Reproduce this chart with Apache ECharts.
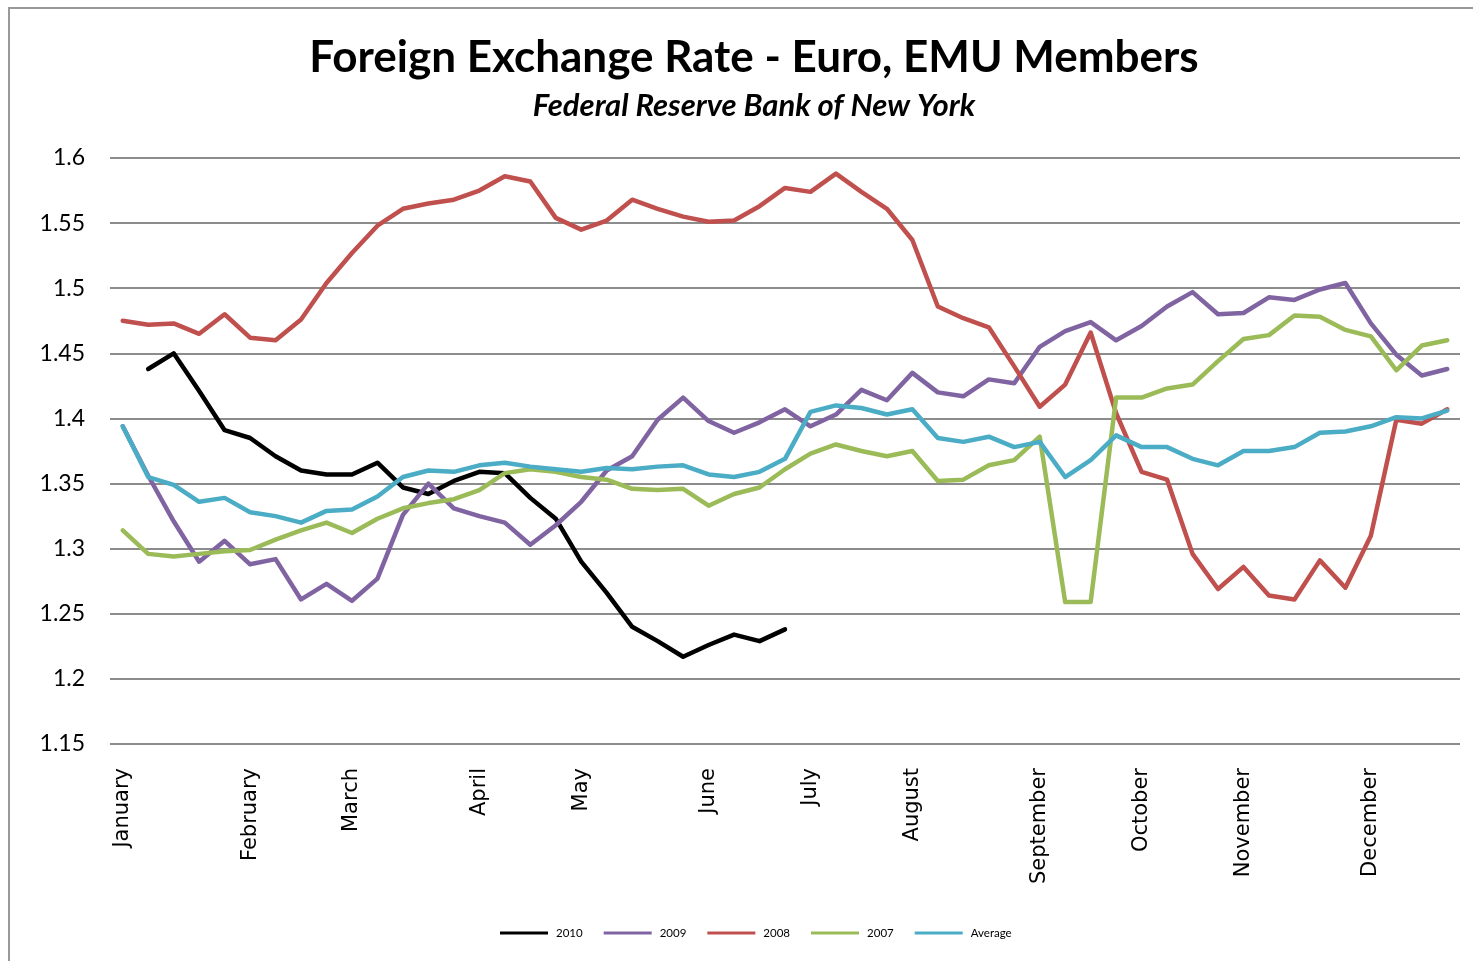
<!DOCTYPE html>
<html lang="en">
<head>
    <meta charset="UTF-8">
    <title>Foreign Exchange Rate - Euro, EMU Members</title>
    <script src="https://cdn.jsdelivr.net/npm/echarts@6/dist/echarts.min.js"></script>
    <style>
        body {
            margin: 0;
            padding: 0;
            background: #fff;
        }
        #chart {
            width: 1473px;
            height: 961px;
        }
    </style>
</head>
<body>
<div id="chart"></div>
<script>
    // Weekly points, month name shown on the first week of each month
    const monthNames = ['January', 'February', 'March', 'April', 'May', 'June',
        'July', 'August', 'September', 'October', 'November', 'December'];
    const monthWeeks = [0, 5, 9, 14, 18, 23, 27, 31, 36, 40, 44, 49];
    const weeks = [];
    for (let i = 0; i < 53; i++) {
        const m = monthWeeks.indexOf(i);
        weeks.push(m >= 0 ? monthNames[m] : 'w' + i);
    }

    const y2010 = [null, 1.438, 1.450, 1.421, 1.391, 1.385, 1.371, 1.360, 1.357, 1.357, 1.366,
        1.347, 1.342, 1.352, 1.359, 1.358, 1.339, 1.323, 1.290, 1.266, 1.240,
        1.229, 1.217, 1.226, 1.234, 1.229, 1.238,
        null, null, null, null, null, null, null, null, null, null, null, null, null, null,
        null, null, null, null, null, null, null, null, null, null, null, null];

    const y2009 = [1.394, 1.356, 1.321, 1.290, 1.306, 1.288, 1.292, 1.261, 1.273, 1.260, 1.277,
        1.326, 1.350, 1.331, 1.325, 1.320, 1.303, 1.318, 1.336, 1.360, 1.371,
        1.399, 1.416, 1.398, 1.389, 1.397, 1.407, 1.394, 1.403, 1.422, 1.414,
        1.435, 1.420, 1.417, 1.430, 1.427, 1.455, 1.467, 1.474, 1.460, 1.471,
        1.486, 1.497, 1.480, 1.481, 1.493, 1.491, 1.499, 1.504, 1.473, 1.449,
        1.433, 1.438];

    const y2008 = [1.475, 1.472, 1.473, 1.465, 1.480, 1.462, 1.460, 1.476, 1.504, 1.527, 1.548,
        1.561, 1.565, 1.568, 1.575, 1.586, 1.582, 1.554, 1.545, 1.552, 1.568,
        1.561, 1.555, 1.551, 1.552, 1.563, 1.577, 1.574, 1.588, 1.574, 1.561,
        1.537, 1.486, 1.477, 1.470, 1.440, 1.409, 1.426, 1.466, 1.404, 1.359,
        1.353, 1.296, 1.269, 1.286, 1.264, 1.261, 1.291, 1.270, 1.310, 1.399,
        1.396, 1.407];

    const y2007 = [1.314, 1.296, 1.294, 1.296, 1.298, 1.299, 1.307, 1.314, 1.320, 1.312, 1.323,
        1.331, 1.335, 1.338, 1.345, 1.358, 1.361, 1.359, 1.355, 1.353, 1.346,
        1.345, 1.346, 1.333, 1.342, 1.347, 1.361, 1.373, 1.380, 1.375, 1.371,
        1.375, 1.352, 1.353, 1.364, 1.368, 1.386, 1.259, 1.259, 1.416, 1.416,
        1.423, 1.426, 1.444, 1.461, 1.464, 1.479, 1.478, 1.468, 1.463, 1.437,
        1.456, 1.460];

    const yAverage = [1.394, 1.355, 1.349, 1.336, 1.339, 1.328, 1.325, 1.320, 1.329, 1.330, 1.340,
        1.355, 1.360, 1.359, 1.364, 1.366, 1.363, 1.361, 1.359, 1.362, 1.361,
        1.363, 1.364, 1.357, 1.355, 1.359, 1.369, 1.405, 1.410, 1.408, 1.403,
        1.407, 1.385, 1.382, 1.386, 1.378, 1.382, 1.355, 1.368, 1.387, 1.378,
        1.378, 1.369, 1.364, 1.375, 1.375, 1.378, 1.389, 1.390, 1.394, 1.401,
        1.400, 1.406];

    const chart = echarts.init(document.getElementById('chart'));

    function makeSeries(name, data, color) {
        return {
            name: name,
            type: 'line',
            data: data,
            symbol: 'none',
            connectNulls: false,
            lineStyle: { color: color, width: 4.5, join: 'round', cap: 'round' },
            itemStyle: { color: color }
        };
    }

    const options = {
        animation: false,
        title: {
            text: 'Foreign Exchange Rate - Euro, EMU Members',
            subtext: 'Federal Reserve Bank of New York',
            left: 749,
            textAlign: 'center',
            top: 31,
            itemGap: 10,
            textStyle: {
                fontFamily: 'Lato',
                fontWeight: 'bold',
                fontSize: 44,
                color: '#000'
            },
            subtextStyle: {
                fontFamily: 'Lato',
                fontWeight: 'bold',
                fontStyle: 'italic',
                fontSize: 31,
                color: '#000'
            }
        },
        legend: {
            bottom: 17,
            left: 495,
            icon: 'rect',
            itemWidth: 48,
            itemHeight: 3,
            itemGap: 21,
            textStyle: { fontFamily: 'Lato', fontSize: 11.5, color: '#000', padding: [0, 0, 0, 3] },
            data: ['2010', '2009', '2008', '2007', 'Average']
        },
        grid: {
            left: 110,
            right: 13,
            top: 158,
            bottom: 217,
            containLabel: false
        },
        xAxis: {
            type: 'category',
            data: weeks,
            boundaryGap: true,
            axisLine: { show: false },
            axisTick: { show: false },
            axisLabel: {
                interval: 0,
                rotate: 90,
                margin: 24,
                fontFamily: 'DejaVu Sans',
                fontSize: 21,
                color: '#000',
                formatter: function (value) {
                    return monthNames.indexOf(value) >= 0 ? value : '';
                }
            }
        },
        yAxis: {
            type: 'value',
            min: 1.15,
            max: 1.6,
            interval: 0.05,
            axisLine: { show: false },
            axisTick: { show: false },
            splitLine: { lineStyle: { color: '#8c8c8c', width: 2 } },
            axisLabel: {
                margin: 25,
                fontFamily: 'Lato',
                fontSize: 23,
                color: '#000',
                formatter: function (v) {
                    return String(Math.round(v * 100) / 100);
                }
            }
        },
        graphic: [{
            type: 'polyline',
            shape: { points: [[9, 961], [9, 8], [1473, 8]] },
            style: { stroke: '#999', lineWidth: 2, fill: null }
        }],
        series: [
            makeSeries('2010', y2010, '#000000'),
            makeSeries('2009', y2009, '#8064A2'),
            makeSeries('2008', y2008, '#C0504D'),
            makeSeries('2007', y2007, '#9BBB59'),
            makeSeries('Average', yAverage, '#4BACC6')
        ]
    };

    chart.setOption(options);
</script>
</body>
</html>
